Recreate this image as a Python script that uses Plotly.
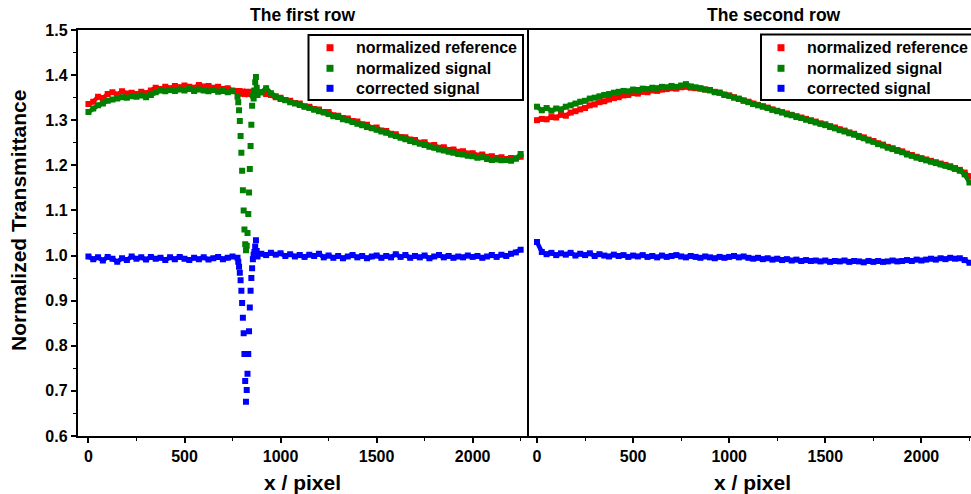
import plotly.graph_objects as go

# ---------------- data: first row ----------------
row1_x = list(range(0, 751, 25)) + list(range(776, 881, 4)) + list(range(900, 2251, 25))

row1_reference = [
    1.336, 1.341, 1.352, 1.349, 1.358, 1.362, 1.357, 1.364, 1.359, 1.361,
    1.358, 1.363, 1.360, 1.366, 1.372, 1.369, 1.374, 1.371, 1.376, 1.373,
    1.377, 1.374, 1.372, 1.378, 1.375, 1.376, 1.372, 1.374, 1.369, 1.371,
    1.366,
    1.364, 1.362, 1.365, 1.361, 1.363, 1.360, 1.362, 1.359, 1.361, 1.363,
    1.360, 1.358, 1.361, 1.359, 1.362, 1.360, 1.358, 1.361, 1.363, 1.360,
    1.362, 1.359, 1.361, 1.364, 1.362, 1.360, 1.361,
    1.362, 1.358, 1.356, 1.351, 1.350, 1.344, 1.343, 1.338, 1.337, 1.331,
    1.330, 1.325, 1.324, 1.318, 1.318, 1.311, 1.310, 1.305, 1.304, 1.298,
    1.297, 1.291, 1.290, 1.283, 1.284, 1.277, 1.276, 1.270, 1.269, 1.263,
    1.262, 1.257, 1.256, 1.250, 1.251, 1.244, 1.245, 1.239, 1.240, 1.234,
    1.235, 1.230, 1.231, 1.226, 1.227, 1.222, 1.224, 1.219, 1.220, 1.216,
    1.218, 1.214, 1.216, 1.215, 1.219,
]

row1_signal = [
    1.318, 1.326, 1.333, 1.337, 1.343, 1.346, 1.348, 1.351, 1.350, 1.353,
    1.352, 1.355, 1.351, 1.356, 1.362, 1.366, 1.364, 1.367, 1.365, 1.368,
    1.366, 1.369, 1.365, 1.368, 1.366, 1.364, 1.367, 1.363, 1.365, 1.362,
    1.364,
    1.352, 1.340, 1.322, 1.298, 1.265, 1.228, 1.188, 1.145, 1.100, 1.058,
    1.025, 1.012, 1.022, 1.050, 1.092, 1.140, 1.192, 1.243, 1.290, 1.332,
    1.355, 1.348, 1.366, 1.384, 1.396, 1.372, 1.356,
    1.362, 1.371, 1.360, 1.353, 1.347, 1.345, 1.340, 1.337, 1.334, 1.330,
    1.327, 1.323, 1.320, 1.317, 1.314, 1.309, 1.307, 1.302, 1.300, 1.296,
    1.292, 1.289, 1.285, 1.282, 1.279, 1.275, 1.272, 1.268, 1.265, 1.261,
    1.258, 1.254, 1.251, 1.248, 1.245, 1.241, 1.239, 1.235, 1.233, 1.230,
    1.228, 1.225, 1.224, 1.221, 1.220, 1.217, 1.218, 1.214, 1.212, 1.213,
    1.211, 1.212, 1.210, 1.215, 1.225,
]

row1_corrected = [
    0.998, 0.992, 0.996, 0.989, 0.997, 0.993, 0.986, 0.994, 0.990, 0.998,
    0.993, 0.996, 0.991, 0.997, 0.993, 0.995, 0.990, 0.996, 0.992, 0.997,
    0.993, 0.990, 0.995, 0.992, 0.996, 0.991, 0.994, 0.997, 0.992, 0.995,
    0.998,
    0.995, 0.986, 0.975, 0.962, 0.945, 0.922, 0.895, 0.862, 0.828, 0.782,
    0.722, 0.676, 0.702, 0.738, 0.782, 0.832, 0.885, 0.922, 0.950, 0.972,
    0.992, 1.002, 1.008, 1.020, 1.034, 1.010, 0.998,
    1.004, 1.001, 1.006, 1.002, 1.005, 0.999, 1.003, 0.998, 1.001, 0.997,
    1.002, 0.999, 1.004, 0.996, 1.000, 0.995, 0.999, 0.994, 0.998, 1.001,
    0.996, 0.999, 0.994, 0.998, 1.000, 0.995, 0.999, 0.996, 1.003, 0.997,
    1.001, 0.995, 0.999, 0.996, 1.000, 0.994, 0.998, 1.001, 0.996, 0.999,
    0.995, 0.998, 0.996, 1.000, 0.997, 0.999, 0.995, 0.998, 1.001, 0.997,
    1.002, 0.999, 1.004, 1.007, 1.013,
]

# ---------------- data: second row ----------------
row2_x = list(range(0, 2251, 25))

row2_reference = [
    1.300, 1.303, 1.302, 1.307, 1.306, 1.312, 1.310, 1.317, 1.320, 1.324,
    1.327, 1.333, 1.335, 1.340, 1.342, 1.346, 1.349, 1.351, 1.355, 1.356,
    1.360, 1.359, 1.363, 1.362, 1.366, 1.365, 1.368, 1.369, 1.371, 1.370,
    1.373, 1.374, 1.372, 1.371, 1.370, 1.368, 1.366, 1.363, 1.361, 1.357,
    1.355, 1.351, 1.348, 1.344, 1.341, 1.337, 1.334, 1.331, 1.328, 1.324,
    1.321, 1.318, 1.315, 1.312, 1.309, 1.306, 1.303, 1.300, 1.297, 1.293,
    1.291, 1.287, 1.284, 1.280, 1.277, 1.273, 1.270, 1.265, 1.262, 1.257,
    1.254, 1.249, 1.246, 1.241, 1.238, 1.234, 1.231, 1.226, 1.223, 1.219,
    1.216, 1.213, 1.210, 1.207, 1.204, 1.201, 1.198, 1.194, 1.190, 1.184,
    1.176,
]

row2_signal = [
    1.330, 1.322, 1.327, 1.321, 1.326, 1.324, 1.330, 1.333, 1.337, 1.341,
    1.343, 1.348, 1.350, 1.353, 1.356, 1.358, 1.361, 1.363, 1.365, 1.364,
    1.368, 1.367, 1.370, 1.369, 1.372, 1.371, 1.374, 1.373, 1.376, 1.374,
    1.377, 1.380, 1.375, 1.373, 1.371, 1.368, 1.367, 1.362, 1.361, 1.356,
    1.354, 1.350, 1.347, 1.343, 1.340, 1.336, 1.333, 1.330, 1.327, 1.323,
    1.320, 1.317, 1.313, 1.311, 1.307, 1.305, 1.301, 1.298, 1.295, 1.292,
    1.289, 1.285, 1.282, 1.278, 1.275, 1.271, 1.268, 1.263, 1.260, 1.255,
    1.252, 1.247, 1.244, 1.239, 1.236, 1.232, 1.229, 1.224, 1.221, 1.217,
    1.214, 1.211, 1.208, 1.205, 1.202, 1.199, 1.196, 1.192, 1.188, 1.180,
    1.162,
]

row2_corrected = [
    1.030, 1.008, 1.003, 1.006, 1.001, 1.005, 1.002, 1.006, 1.000, 1.004,
    1.001, 1.005, 0.999, 1.003, 1.000, 0.998, 1.002, 0.999, 1.001, 0.997,
    1.000, 0.998, 1.001, 0.997, 0.999, 0.996, 1.000, 0.997, 0.999, 1.001,
    0.998, 0.996, 0.999, 0.997, 0.995, 0.998, 0.996, 0.994, 0.997, 0.995,
    0.997, 0.999, 0.996, 0.998, 0.995, 0.993, 0.995, 0.992, 0.994, 0.991,
    0.993, 0.990, 0.992, 0.989, 0.991, 0.988, 0.990, 0.988, 0.989, 0.987,
    0.989, 0.986, 0.988, 0.987, 0.989, 0.986, 0.988, 0.987, 0.985, 0.988,
    0.986, 0.988, 0.986, 0.987, 0.989, 0.987, 0.988, 0.990, 0.988, 0.991,
    0.989, 0.991, 0.993, 0.991, 0.994, 0.992, 0.995, 0.993, 0.994, 0.990,
    0.984,
]

series_names = ["normalized reference", "normalized signal", "corrected signal"]
series_colors = ["#ff0000", "#008000", "#0000ff"]

# ---------------- styling ----------------
FONT = "Liberation Sans, Arial, sans-serif"
W, H = 971, 494


def px_x(p):
    return p / W


def px_y(p):
    return 1 - p / H


fig = go.Figure()

# the steep absorption dip is drawn as separate points only
DIP = (770, 890)

panels = [
    ("x", "y", row1_x, [row1_reference, row1_signal, row1_corrected], [False, True, True]),
    ("x2", "y2", row2_x, [row2_reference, row2_signal, row2_corrected], [False, False, False]),
]

for xa, ya, xs, ys, has_dip in panels:
    for color, vals, dip in zip(series_colors, ys, has_dip):
        band = [None if (dip and DIP[0] < x < DIP[1]) else v for x, v in zip(xs, vals)]
        fig.add_trace(go.Scatter(
            x=xs, y=band, xaxis=xa, yaxis=ya, mode="lines",
            line=dict(color=color, width=4.5), connectgaps=False,
            showlegend=False, hoverinfo="skip",
        ))
        fig.add_trace(go.Scatter(
            x=xs, y=vals, xaxis=xa, yaxis=ya, mode="markers",
            marker=dict(symbol="square", size=6, color=color, line=dict(width=0)),
            showlegend=False, hoverinfo="skip",
        ))

tickfont = dict(family=FONT, size=16, color="black", weight="bold")
y_dom = [px_y(436), px_y(30)]

common_x = dict(
    showline=True, linecolor="black", linewidth=1.5, mirror=True,
    ticks="outside", ticklen=5, tickwidth=1.5, tickcolor="black",
    dtick=500, tick0=0, showgrid=False, zeroline=False, tickfont=tickfont,
    minor=dict(dtick=250, tick0=0, ticks="outside", ticklen=3, tickwidth=1.2, tickcolor="black"),
)

fig.update_layout(
    width=W, height=H,
    margin=dict(l=0, r=0, t=0, b=0, autoexpand=False),
    paper_bgcolor="white", plot_bgcolor="white",
    showlegend=False,
    xaxis=dict(domain=[px_x(77.5), px_x(527)], range=[-57, 2283], anchor="y", **common_x),
    xaxis2=dict(domain=[px_x(527), 1.0], range=[-52, 2258], anchor="y2", **common_x),
    yaxis=dict(
        domain=y_dom, range=[0.6, 1.5], anchor="x", dtick=0.1, tick0=0.6, tickformat=".1f",
        showline=True, linecolor="black", linewidth=1.5, mirror=True,
        ticks="outside", ticklen=5, tickwidth=1.5, tickcolor="black",
        showgrid=False, zeroline=False, tickfont=tickfont,
        minor=dict(dtick=0.05, tick0=0.6, ticks="outside", ticklen=3, tickwidth=1.2, tickcolor="black"),
    ),
    yaxis2=dict(
        domain=y_dom, range=[0.6, 1.5], anchor="x2",
        showline=False, ticks="", showticklabels=False, showgrid=False, zeroline=False,
    ),
)

# ---------------- legend boxes (one per panel) ----------------
legend_font = dict(family=FONT, size=16, color="black", weight="bold")
legend_boxes = [
    dict(left=308.5, right=523, top=35, bottom=100, mark=330, text=354),
    dict(left=761, right=1000, top=34.5, bottom=100, mark=781, text=805),
]
row_y = [47.7, 68.3, 88.3]

for box in legend_boxes:
    fig.add_shape(type="rect", xref="paper", yref="paper",
                  x0=px_x(box["left"]), x1=px_x(box["right"]),
                  y0=px_y(box["bottom"]), y1=px_y(box["top"]),
                  line=dict(color="black", width=2), fillcolor="white", layer="above")
    for name, color, ry in zip(series_names, series_colors, row_y):
        fig.add_shape(type="rect", xref="paper", yref="paper",
                      x0=px_x(box["mark"] - 3.5), x1=px_x(box["mark"] + 3.5),
                      y0=px_y(ry + 3.5), y1=px_y(ry - 3.5),
                      line=dict(width=0), fillcolor=color, layer="above")
        fig.add_annotation(xref="paper", yref="paper", x=px_x(box["text"]), y=px_y(ry),
                           xanchor="left", yanchor="middle", showarrow=False,
                           text=name, font=legend_font)

title_font = dict(family=FONT, size=17.5, color="black", weight="bold")
axis_font = dict(family=FONT, size=21, color="black", weight="bold")
annotations = [
    dict(text="The first row", x=px_x(302), y=px_y(15), font=title_font),
    dict(text="The second row", x=px_x(774), y=px_y(15), font=title_font),
    dict(text="x / pixel", x=px_x(302), y=px_y(482), font=axis_font),
    dict(text="x / pixel", x=px_x(752), y=px_y(482), font=axis_font),
    dict(text="Normalized Transmittance", x=px_x(18), y=px_y(221), font=axis_font, textangle=-90),
]
for a in annotations:
    fig.add_annotation(xref="paper", yref="paper", xanchor="center", yanchor="middle",
                       showarrow=False, **a)

fig.write_html("out.html")
